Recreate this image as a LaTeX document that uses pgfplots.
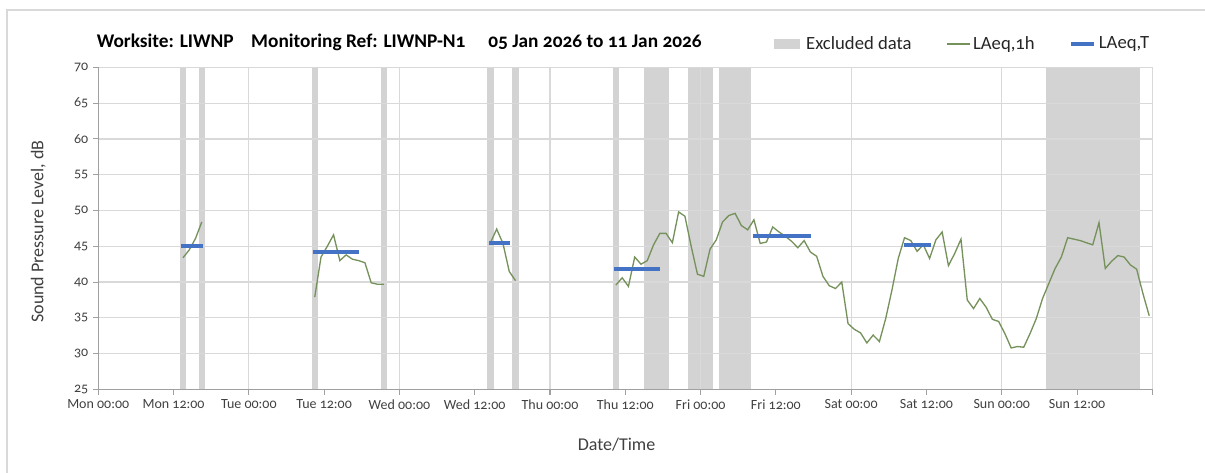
\documentclass[border=0pt]{standalone}
\usepackage{fontspec}
\setmainfont{Carlito}[Numbers=OldStyle]
\usepackage{pgfplots}
\pgfplotsset{compat=1.18}

\definecolor{excl}{RGB}{211,211,211}
\definecolor{laeqh}{RGB}{118,146,92}
\definecolor{laeqt}{RGB}{68,114,196}
\definecolor{gridc}{RGB}{217,217,217}
\definecolor{axc}{RGB}{160,160,160}
\definecolor{txt}{RGB}{64,64,64}

\begin{document}
\begin{tikzpicture}
\begin{axis}[
  name=ax,
  set layers,
  scale only axis,
  width=790.5pt, height=241.6pt,
  xmin=0, xmax=168, ymin=25, ymax=70,
  axis x line*=bottom, axis y line*=left,
  axis line style={axc, line width=0.9pt},
  xtick={0,12,...,168},
  xticklabels={Mon 00:00,Mon 12:00,Tue 00:00,Tue 12:00,Wed 00:00,Wed 12:00,Thu 00:00,Thu 12:00,Fri 00:00,Fri 12:00,Sat 00:00,Sat 12:00,Sun 00:00,Sun 12:00,{}},
  ytick={25,30,...,70},
  tick align=outside, major tick length=4pt,
  tick style={axc, line width=0.8pt},
  ymajorgrids,
  grid style={gridc, line width=0.9pt},
  extra x ticks={24,48,...,168},
  extra x tick labels={},
  extra x tick style={grid=major},
  /pgf/number format/assume math mode=true,
  ticklabel style={font=\fontsize{10.5}{12}\selectfont, text=txt},
  unbounded coords=jump,
  legend columns=3,
  legend style={at={(1,1)}, anchor=east, xshift=-0.2pt, yshift=17.5pt,
    draw=none, fill=none, inner sep=0pt,
    font=\fontsize{14}{16}\selectfont, text=black!85,
    /tikz/every even column/.append style={column sep=24pt}},
]
% excluded periods (hours from Mon 00:00)
\addplot[fill=excl, draw=none, on layer=axis background,
  legend image code/.code={\fill[excl] (-4pt,-3.75pt) rectangle (15.5pt,3.75pt); \path (18pt,0pt);}]
  coordinates {(13,25) (14,25) (14,70) (13,70)} -- cycle;
\addlegendentry{Excluded data}
\addplot[fill=excl, draw=none, on layer=axis background, forget plot] coordinates {(16,25) (17,25) (17,70) (16,70)} -- cycle;
\addplot[fill=excl, draw=none, on layer=axis background, forget plot] coordinates {(34,25) (35,25) (35,70) (34,70)} -- cycle;
\addplot[fill=excl, draw=none, on layer=axis background, forget plot] coordinates {(45,25) (46,25) (46,70) (45,70)} -- cycle;
\addplot[fill=excl, draw=none, on layer=axis background, forget plot] coordinates {(62,25) (63,25) (63,70) (62,70)} -- cycle;
\addplot[fill=excl, draw=none, on layer=axis background, forget plot] coordinates {(66,25) (67,25) (67,70) (66,70)} -- cycle;
\addplot[fill=excl, draw=none, on layer=axis background, forget plot] coordinates {(82,25) (83,25) (83,70) (82,70)} -- cycle;
\addplot[fill=excl, draw=none, on layer=axis background, forget plot] coordinates {(87,25) (91,25) (91,70) (87,70)} -- cycle;
\addplot[fill=excl, draw=none, on layer=axis background, forget plot] coordinates {(94,25) (98,25) (98,70) (94,70)} -- cycle;
\addplot[fill=excl, draw=none, on layer=axis background, forget plot] coordinates {(99,25) (104,25) (104,70) (99,70)} -- cycle;
\addplot[fill=excl, draw=none, on layer=axis background, forget plot] coordinates {(151,25) (166,25) (166,70) (151,70)} -- cycle;

% LAeq,1h
\addplot[laeqh, line width=1pt] coordinates {
  (13.5,43.4) (14.5,44.5) (15.5,46.1) (16.5,48.4)
  (17,nan)
  (34.5,37.9) (35.5,43.5) (36.5,45.0) (37.5,46.6) (38.5,43.0) (39.5,43.8)
  (40.5,43.2) (41.5,43.0) (42.5,42.7) (43.5,39.9) (44.5,39.7) (45.5,39.7)
  (46,nan)
  (62.5,45.5) (63.5,47.4) (64.5,45.4) (65.5,41.5) (66.5,40.2)
  (67,nan)
  (82.5,39.6) (83.5,40.6) (84.5,39.4) (85.5,43.5) (86.5,42.5) (87.5,43.0)
  (88.5,45.2) (89.5,46.8) (90.5,46.8) (91.5,45.5) (92.5,49.8) (93.5,49.2)
  (94.5,45.0) (95.5,41.1) (96.5,40.8) (97.5,44.6) (98.5,45.9) (99.5,48.4)
  (100.5,49.3) (101.5,49.6) (102.5,47.9) (103.5,47.3) (104.5,48.7) (105.5,45.4)
  (106.5,45.6) (107.5,47.7) (108.5,47.0) (109.5,46.4) (110.5,45.7) (111.5,44.8)
  (112.5,45.8) (113.5,44.2) (114.5,43.6) (115.5,40.8) (116.5,39.5) (117.5,39.1)
  (118.5,40.0) (119.5,34.2) (120.5,33.4) (121.5,32.9) (122.5,31.5) (123.5,32.6)
  (124.5,31.7) (125.5,34.9) (126.5,38.9) (127.5,43.3) (128.5,46.2) (129.5,45.8)
  (130.5,44.3) (131.5,45.2) (132.5,43.3) (133.5,45.9) (134.5,47.0) (135.5,42.3)
  (136.5,44.0) (137.5,46.0) (138.5,37.5) (139.5,36.3) (140.5,37.7) (141.5,36.5)
  (142.5,34.8) (143.5,34.5) (144.5,32.8) (145.5,30.8) (146.5,31.0) (147.5,30.9)
  (148.5,32.8) (149.5,34.9) (150.5,37.7) (151.5,39.8) (152.5,41.9) (153.5,43.5)
  (154.5,46.2) (155.5,46.0) (156.5,45.8) (157.5,45.5) (158.5,45.2) (159.5,48.3)
  (160.5,41.9) (161.5,42.9) (162.5,43.7) (163.5,43.5) (164.5,42.4) (165.5,41.8)
  (166.5,38.4) (167.5,35.3)
};
\addlegendentry{LAeq,1h}

% LAeq,T
\addplot[laeqt, line width=3pt] coordinates {
  (13.2,45.05) (16.7,45.05) (20,nan)
  (34.2,44.2) (41.6,44.2) (50,nan)
  (62.3,45.4) (65.7,45.4) (70,nan)
  (82.2,41.85) (89.5,41.85) (95,nan)
  (104.3,46.4) (113.6,46.4) (120,nan)
  (128.4,45.15) (132.7,45.15)
};
\addlegendentry{LAeq,T}
\end{axis}

\node[anchor=base west, inner sep=0pt, font=\bfseries\fontsize{14.5}{17}\selectfont]
  at ([xshift=-1.3pt,yshift=14.7pt]ax.north west) {Worksite: LIWNP};
\node[anchor=base west, inner sep=0pt, font=\bfseries\fontsize{14.5}{17}\selectfont]
  at ([xshift=114.5pt,yshift=14.7pt]ax.north west) {Monitoring Ref: LIWNP-N1};
\node[anchor=base west, inner sep=0pt, font=\bfseries\fontsize{14.5}{17}\selectfont]
  at ([xshift=292.3pt,yshift=14.7pt]ax.north west) {05 Jan 2026 to 11 Jan 2026};
\node[rotate=90, anchor=center, text=txt, font=\fontsize{13.5}{16}\selectfont]
  at ([xshift=-45pt,yshift=-2.3pt]ax.west) {Sound Pressure Level, dB};
\node[anchor=center, text=txt, font=\fontsize{13.5}{16}\selectfont]
  at ([xshift=-6.6pt,yshift=-41.6pt]ax.south) {Date/Time};

\draw[gridc, line width=0.9pt]
  ([xshift=-68.5pt,yshift=-80pt]ax.south west) -- ([xshift=-68.5pt,yshift=43pt]ax.north west)
  -- ([xshift=60pt,yshift=43pt]ax.north east);

\pgfresetboundingbox
\path[use as bounding box] ([xshift=-73.7pt,yshift=-61.9pt]ax.south west)
  rectangle ([xshift=39.5pt,yshift=50.5pt]ax.north east);
\end{tikzpicture}
\end{document}
